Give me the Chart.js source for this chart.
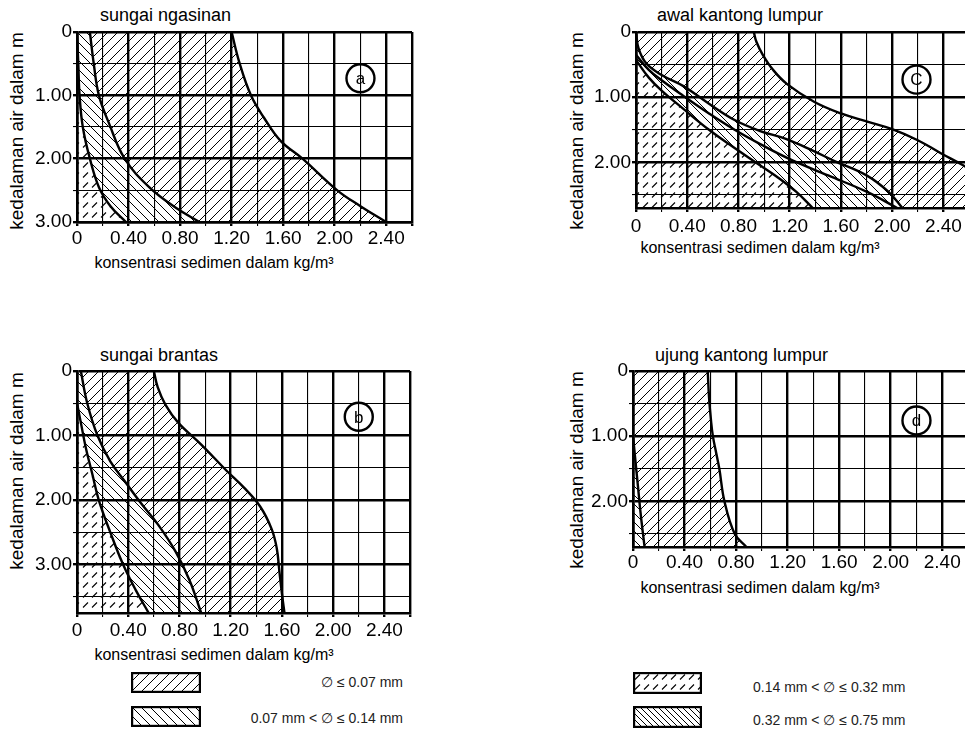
<!DOCTYPE html>
<html>
<head>
<meta charset="utf-8">
<script src="https://cdn.jsdelivr.net/npm/chart.js@4.4.1/dist/chart.umd.min.js"></script>
<style>
  html, body { margin: 0; padding: 0; background: #fff; overflow: hidden; width: 965px; height: 732px; position: relative;
               font-family: "Liberation Sans", Arial, Helvetica, sans-serif; color: #000; }
  canvas { position: absolute; }
  .pt { position: absolute; font-size: 18px; line-height: 20px; white-space: nowrap; transform: translate(0, -50%); }
  .xt { position: absolute; font-size: 16px; line-height: 18px; white-space: nowrap; transform: translate(-50%, -50%); }
  .yt { position: absolute; font-size: 19px; line-height: 20px; white-space: nowrap; transform: translate(-50%, -50%) rotate(-90deg); }
  .lgl { position: absolute; font-size: 14px; line-height: 16px; white-space: nowrap; color: #222; transform: translate(-100%, -50%); }
  .lgr { position: absolute; font-size: 14px; line-height: 16px; white-space: nowrap; color: #222; transform: translate(0, -50%); }
</style>
</head>
<body>
<div class="pt" style="left:100px;top:15px">sungai ngasinan</div>
<div class="pt" style="left:657px;top:15px">awal kantong lumpur</div>
<div class="pt" style="left:100px;top:355px">sungai brantas</div>
<div class="pt" style="left:655px;top:355px">ujung kantong lumpur</div>

<div class="yt" style="left:17px;top:131px">kedalaman air dalam m</div>
<div class="yt" style="left:577px;top:131px">kedalaman air dalam m</div>
<div class="yt" style="left:17px;top:471px">kedalaman air dalam m</div>
<div class="yt" style="left:577px;top:470px">kedalaman air dalam m</div>

<div class="xt" style="left:214px;top:263px">konsentrasi sedimen dalam kg/m³</div>
<div class="xt" style="left:760px;top:248px">konsentrasi sedimen dalam kg/m³</div>
<div class="xt" style="left:214px;top:655px">konsentrasi sedimen dalam kg/m³</div>
<div class="xt" style="left:760px;top:588px">konsentrasi sedimen dalam kg/m³</div>

<canvas id="panelA" width="482" height="250" style="left:0;top:0"></canvas>
<canvas id="panelC" width="440" height="240" style="left:560px;top:0"></canvas>
<canvas id="panelB" width="482" height="305" style="left:0;top:340px"></canvas>
<canvas id="panelD" width="440" height="240" style="left:560px;top:340px"></canvas>

<canvas id="key1" width="70" height="21" style="left:131px;top:672px"></canvas>
<canvas id="key2" width="70" height="21" style="left:131px;top:706px"></canvas>
<canvas id="key3" width="69" height="22" style="left:633px;top:672px"></canvas>
<canvas id="key4" width="69" height="22" style="left:633px;top:706px"></canvas>
<div class="lgl" style="left:403px;top:682px">∅ ≤ 0.07 mm</div>
<div class="lgl" style="left:403px;top:718px">0.07 mm &lt; ∅ ≤ 0.14 mm</div>
<div class="lgr" style="left:753px;top:687px">0.14 mm &lt; ∅ ≤ 0.32 mm</div>
<div class="lgr" style="left:753px;top:720px">0.32 mm &lt; ∅ ≤ 0.75 mm</div>

<script>
// ---- grid / tick values (concentration kg/m³ on x, water depth m on y) ----
const concentrationTicks = [0, 0.2, 0.4, 0.6, 0.8, 1.0, 1.2, 1.4, 1.6, 1.8, 2.0, 2.2, 2.4, 2.6];
const depthTicks = [0, 0.5, 1.0, 1.5, 2.0, 2.5, 3.0, 3.5];
const depthMax = { a: 3.0, b: 3.75, c: 2.7, d: 2.7 };

// ---- boundary curves: [concentration, depth] ----
// (a) sungai ngasinan
const ngasinanCoarse = [[0, 0], [0.01, 0.5], [0.02, 1.0], [0.045, 1.5], [0.1, 2.0], [0.17, 2.45], [0.26, 2.75], [0.38, 3.0]];
const ngasinanMedium = [[0.1, 0], [0.13, 0.5], [0.17, 1.0], [0.25, 1.45], [0.37, 2.0], [0.56, 2.45], [0.77, 2.78], [0.95, 3.0]];
const ngasinanTotal  = [[1.2, 0], [1.26, 0.48], [1.35, 1.0], [1.45, 1.35], [1.58, 1.72], [1.75, 2.0], [2.02, 2.5], [2.2, 2.75], [2.4, 3.0]];

// (b) sungai brantas
const brantasCoarse = [[0, 0.5], [0.03, 0.8], [0.07, 1.2], [0.12, 1.6], [0.17, 2.0], [0.26, 2.5], [0.36, 3.0], [0.46, 3.4], [0.56, 3.75]];
const brantasMedium = [[0.03, 0], [0.08, 0.5], [0.16, 1.0], [0.26, 1.4], [0.37, 1.7], [0.5, 2.05], [0.64, 2.4], [0.77, 2.8], [0.88, 3.25], [0.97, 3.75]];
const brantasTotal  = [[0.6, 0], [0.63, 0.25], [0.69, 0.52], [0.79, 0.8], [0.97, 1.14], [1.17, 1.55], [1.3, 1.8], [1.43, 2.1], [1.52, 2.45], [1.56, 2.75], [1.58, 3.1], [1.6, 3.45], [1.62, 3.75]];

// (c) awal kantong lumpur
const awalCoarse = [[0, 0.43], [0.1, 0.7], [0.2, 0.9], [0.37, 1.18], [0.57, 1.5], [0.77, 1.78], [0.95, 2.02], [1.1, 2.22], [1.25, 2.45], [1.38, 2.7]];
const awalMedium = [[0, 0.35], [0.1, 0.58], [0.2, 0.74], [0.37, 0.98], [0.57, 1.25], [0.77, 1.5], [0.97, 1.72], [1.2, 1.95], [1.5, 2.2], [1.8, 2.45], [2.04, 2.7]];
const awalFine   = [[0, 0], [0.02, 0.25], [0.08, 0.48], [0.2, 0.66], [0.37, 0.83], [0.57, 1.1], [0.77, 1.35], [0.97, 1.52], [1.17, 1.64], [1.38, 1.82], [1.55, 1.98], [1.8, 2.2], [1.97, 2.45], [2.08, 2.7]];
const awalTotal  = [[0.92, 0], [0.94, 0.15], [0.99, 0.35], [1.07, 0.58], [1.18, 0.8], [1.39, 1.07], [1.6, 1.25], [1.8, 1.37], [2.0, 1.49], [2.2, 1.66], [2.38, 1.86], [2.55, 2.04], [2.66, 2.17]];

// (d) ujung kantong lumpur
const ujungCoarse = [[0, 1.0], [0.02, 1.4], [0.04, 1.8], [0.06, 2.2], [0.09, 2.7]];
const ujungTotal  = [[0.58, 0], [0.59, 0.4], [0.605, 0.75], [0.62, 1.0], [0.645, 1.25], [0.67, 1.5], [0.71, 2.0], [0.79, 2.5], [0.88, 2.7]];

// panel markers: letter and [concentration, depth] of the circle centre
const panelTags = { a: ['a', [2.2, 0.73]], b: ['b', [2.2, 0.71]], c: ['C', [2.19, 0.73]], d: ['d', [2.2, 0.76]] };

// ---- drawing helpers ----
const FONT = '"Liberation Sans", Arial, Helvetica, sans-serif';
Chart.defaults.font.family = FONT;
Chart.defaults.color = '#000';

function near(v, step) { const q = v / step; return Math.abs(q - Math.round(q)) < 1e-6; }

const tileCache = {};
function hatchTile(kind) {
  if (tileCache[kind]) return tileCache[kind];
  const size = { fwd: [10, 10], back: [9, 9], dense: [6, 6], dash: [9, 10] }[kind];
  const [w, h] = size;
  const c = document.createElement('canvas');
  c.width = w; c.height = h;
  const g = c.getContext('2d');
  g.strokeStyle = '#000';
  g.lineWidth = 1;
  g.beginPath();
  if (kind === 'fwd') {
    g.moveTo(-1, h + 1); g.lineTo(w + 1, -1);
    g.moveTo(-1, 1); g.lineTo(1, -1);
    g.moveTo(w - 1, h + 1); g.lineTo(w + 1, h - 1);
  } else if (kind === 'back' || kind === 'dense') {
    g.moveTo(-1, -1); g.lineTo(w + 1, h + 1);
    g.moveTo(w - 1, -1); g.lineTo(w + 1, 1);
    g.moveTo(-1, h - 1); g.lineTo(1, h + 1);
  } else {
    g.lineWidth = 1.1;
    g.moveTo(2, 7.5); g.lineTo(7, 2.5);
  }
  g.stroke();
  tileCache[kind] = c;
  return c;
}

// fills the hatched bands between boundary curves and draws the circled panel letter
function sedimentLayers(regions, tag) {
  return {
    id: 'sedimentLayers',
    beforeDatasetsDraw(chart) {
      const { ctx, chartArea: a, scales: { x, y } } = chart;
      ctx.save();
      ctx.beginPath();
      ctx.rect(a.left, a.top, a.right - a.left, a.bottom - a.top);
      ctx.clip();
      regions.forEach(r => {
        ctx.beginPath();
        let started = false;
        const go = (px, py) => { if (started) ctx.lineTo(px, py); else { ctx.moveTo(px, py); started = true; } };
        r.path.forEach(step => {
          if (step.corner) { go(x.getPixelForValue(step.corner[0]), y.getPixelForValue(step.corner[1])); return; }
          const idx = chart.data.datasets.findIndex(d => d.label === step.curve);
          const meta = chart.getDatasetMeta(idx);
          meta.dataset.updateControlPoints(a, 'x');
          const pts = step.reverse ? meta.data.slice().reverse() : meta.data;
          pts.forEach((p, i) => {
            if (i === 0) { go(p.x, p.y); return; }
            const q = pts[i - 1];
            const c1x = step.reverse ? q.cp1x : q.cp2x, c1y = step.reverse ? q.cp1y : q.cp2y;
            const c2x = step.reverse ? p.cp2x : p.cp1x, c2y = step.reverse ? p.cp2y : p.cp1y;
            if ([c1x, c1y, c2x, c2y].every(Number.isFinite)) ctx.bezierCurveTo(c1x, c1y, c2x, c2y, p.x, p.y);
            else ctx.lineTo(p.x, p.y);
          });
        });
        ctx.closePath();
        ctx.fillStyle = ctx.createPattern(hatchTile(r.hatch), 'repeat');
        ctx.fill();
      });
      ctx.restore();
    },
    afterDatasetsDraw(chart) {
      const { ctx, scales: { x, y } } = chart;
      const [letter, at] = tag;
      const px = x.getPixelForValue(at[0]), py = y.getPixelForValue(at[1]);
      ctx.save();
      ctx.beginPath();
      ctx.arc(px, py, 14, 0, Math.PI * 2);
      ctx.lineWidth = 2.4;
      ctx.strokeStyle = '#000';
      ctx.stroke();
      ctx.fillStyle = '#000';
      ctx.font = '17px ' + FONT;
      ctx.textAlign = 'center';
      ctx.textBaseline = 'middle';
      ctx.fillText(letter, px, py + 1);
      ctx.restore();
    }
  };
}

// geom: page position of the canvas and of the plot area
function buildPanel(id, geom, curves, regions, yMax, tag) {
  const canvas = document.getElementById(id);
  const yAxisW = geom.L - geom.cx;
  const xAxisH = geom.cy + canvas.height - geom.B;
  const yVals = depthTicks.filter(v => v <= yMax + 1e-9);
  return new Chart(canvas, {
    type: 'scatter',
    data: {
      datasets: curves.map(([name, pts]) => ({
        label: name,
        data: pts.map(([cx, d]) => ({ x: cx, y: d })),
        showLine: true,
        borderColor: '#000',
        borderWidth: 2.4,
        pointRadius: 0,
        tension: 0.4,
        fill: false
      }))
    },
    options: {
      responsive: false,
      animation: false,
      events: [],
      layout: { padding: { left: 0, top: geom.T - geom.cy, right: geom.cx + canvas.width - geom.R, bottom: 0 } },
      plugins: { legend: { display: false }, tooltip: { enabled: false } },
      scales: {
        x: {
          type: 'linear', position: 'bottom', min: 0, max: 2.6,
          afterBuildTicks: s => { s.ticks = concentrationTicks.map(v => ({ value: v })); },
          afterFit: s => { s.height = xAxisH; },
          ticks: {
            autoSkip: false, maxRotation: 0, minRotation: 0, padding: geom.tickPad, color: '#000',
            font: { size: 19 },
            callback: v => v === 0 ? '0' : (near(v, 0.4) ? v.toFixed(2) : '')
          },
          grid: {
            color: '#000', tickLength: 4,
            lineWidth: c => (c.tick && (near(c.tick.value, 0.4) || Math.abs(c.tick.value - 2.6) < 1e-6)) ? 2.4 : 1.1
          },
          border: { color: '#000', width: 2.6 },
          title: { display: false }
        },
        y: {
          type: 'linear', position: 'left', min: 0, max: yMax, reverse: true,
          afterBuildTicks: s => { s.ticks = yVals.map(v => ({ value: v })); },
          afterFit: s => { s.width = yAxisW; },
          ticks: {
            autoSkip: false, padding: 1, color: '#000',
            font: { size: 19 },
            callback: v => v === 0 ? '0' : (near(v, 1) ? v.toFixed(2) : '')
          },
          grid: {
            color: '#000', tickLength: 4,
            lineWidth: c => (c.tick && near(c.tick.value, 1)) ? 2.4 : 1.1
          },
          border: { color: '#000', width: 2.6 },
          title: { display: false }
        }
      }
    },
    plugins: [sedimentLayers(regions, tag)]
  });
}

// (a) sungai ngasinan
buildPanel('panelA', { cx: 0, cy: 0, L: 77, T: 32, R: 412, B: 222, tickPad: 1 },
  [['coarse', ngasinanCoarse], ['medium', ngasinanMedium], ['total', ngasinanTotal]],
  [
    { hatch: 'dash', path: [{ curve: 'coarse' }, { corner: [0, depthMax.a] }] },
    { hatch: 'back', path: [{ curve: 'medium' }, { curve: 'coarse', reverse: true }] },
    { hatch: 'fwd',  path: [{ curve: 'total' }, { curve: 'medium', reverse: true }] }
  ], depthMax.a, panelTags.a);

// (c) awal kantong lumpur
buildPanel('panelC', { cx: 560, cy: 0, L: 636, T: 32, R: 969, B: 208, tickPad: 3 },
  [['coarse', awalCoarse], ['medium', awalMedium], ['fine', awalFine], ['total', awalTotal]],
  [
    { hatch: 'dash', path: [{ curve: 'coarse' }, { corner: [0, depthMax.c] }] },
    { hatch: 'back', path: [{ curve: 'medium' }, { curve: 'coarse', reverse: true }] },
    { hatch: 'back', path: [{ curve: 'fine' }, { curve: 'medium', reverse: true }] },
    { hatch: 'fwd',  path: [{ curve: 'total' }, { corner: [2.7, depthMax.c] }, { curve: 'fine', reverse: true }] }
  ], depthMax.c, panelTags.c);

// (b) sungai brantas
buildPanel('panelB', { cx: 0, cy: 340, L: 77, T: 371, R: 410, B: 613, tickPad: 2 },
  [['coarse', brantasCoarse], ['medium', brantasMedium], ['total', brantasTotal]],
  [
    { hatch: 'dash', path: [{ curve: 'coarse' }, { corner: [0, depthMax.b] }] },
    { hatch: 'back', path: [{ curve: 'medium' }, { curve: 'coarse', reverse: true }, { corner: [0, 0] }] },
    { hatch: 'fwd',  path: [{ curve: 'total' }, { curve: 'medium', reverse: true }] }
  ], depthMax.b, panelTags.b);

// (d) ujung kantong lumpur
buildPanel('panelD', { cx: 560, cy: 340, L: 633, T: 371, R: 968, B: 547, tickPad: 0 },
  [['coarse', ujungCoarse], ['total', ujungTotal]],
  [
    { hatch: 'back', path: [{ curve: 'coarse' }, { corner: [0, depthMax.d] }] },
    { hatch: 'fwd',  path: [{ curve: 'total' }, { curve: 'coarse', reverse: true }, { corner: [0, 0] }] }
  ], depthMax.d, panelTags.d);

// legend swatches
[['key1', 'fwd'], ['key2', 'back'], ['key3', 'dash'], ['key4', 'dense']].forEach(([id, kind]) => {
  const c = document.getElementById(id);
  const g = c.getContext('2d');
  g.fillStyle = '#fff';
  g.fillRect(0, 0, c.width, c.height);
  g.fillStyle = g.createPattern(hatchTile(kind), 'repeat');
  g.fillRect(0, 0, c.width, c.height);
  g.lineWidth = 2.2;
  g.strokeStyle = '#000';
  g.strokeRect(1.1, 1.1, c.width - 2.2, c.height - 2.2);
});
</script>
</body>
</html>
